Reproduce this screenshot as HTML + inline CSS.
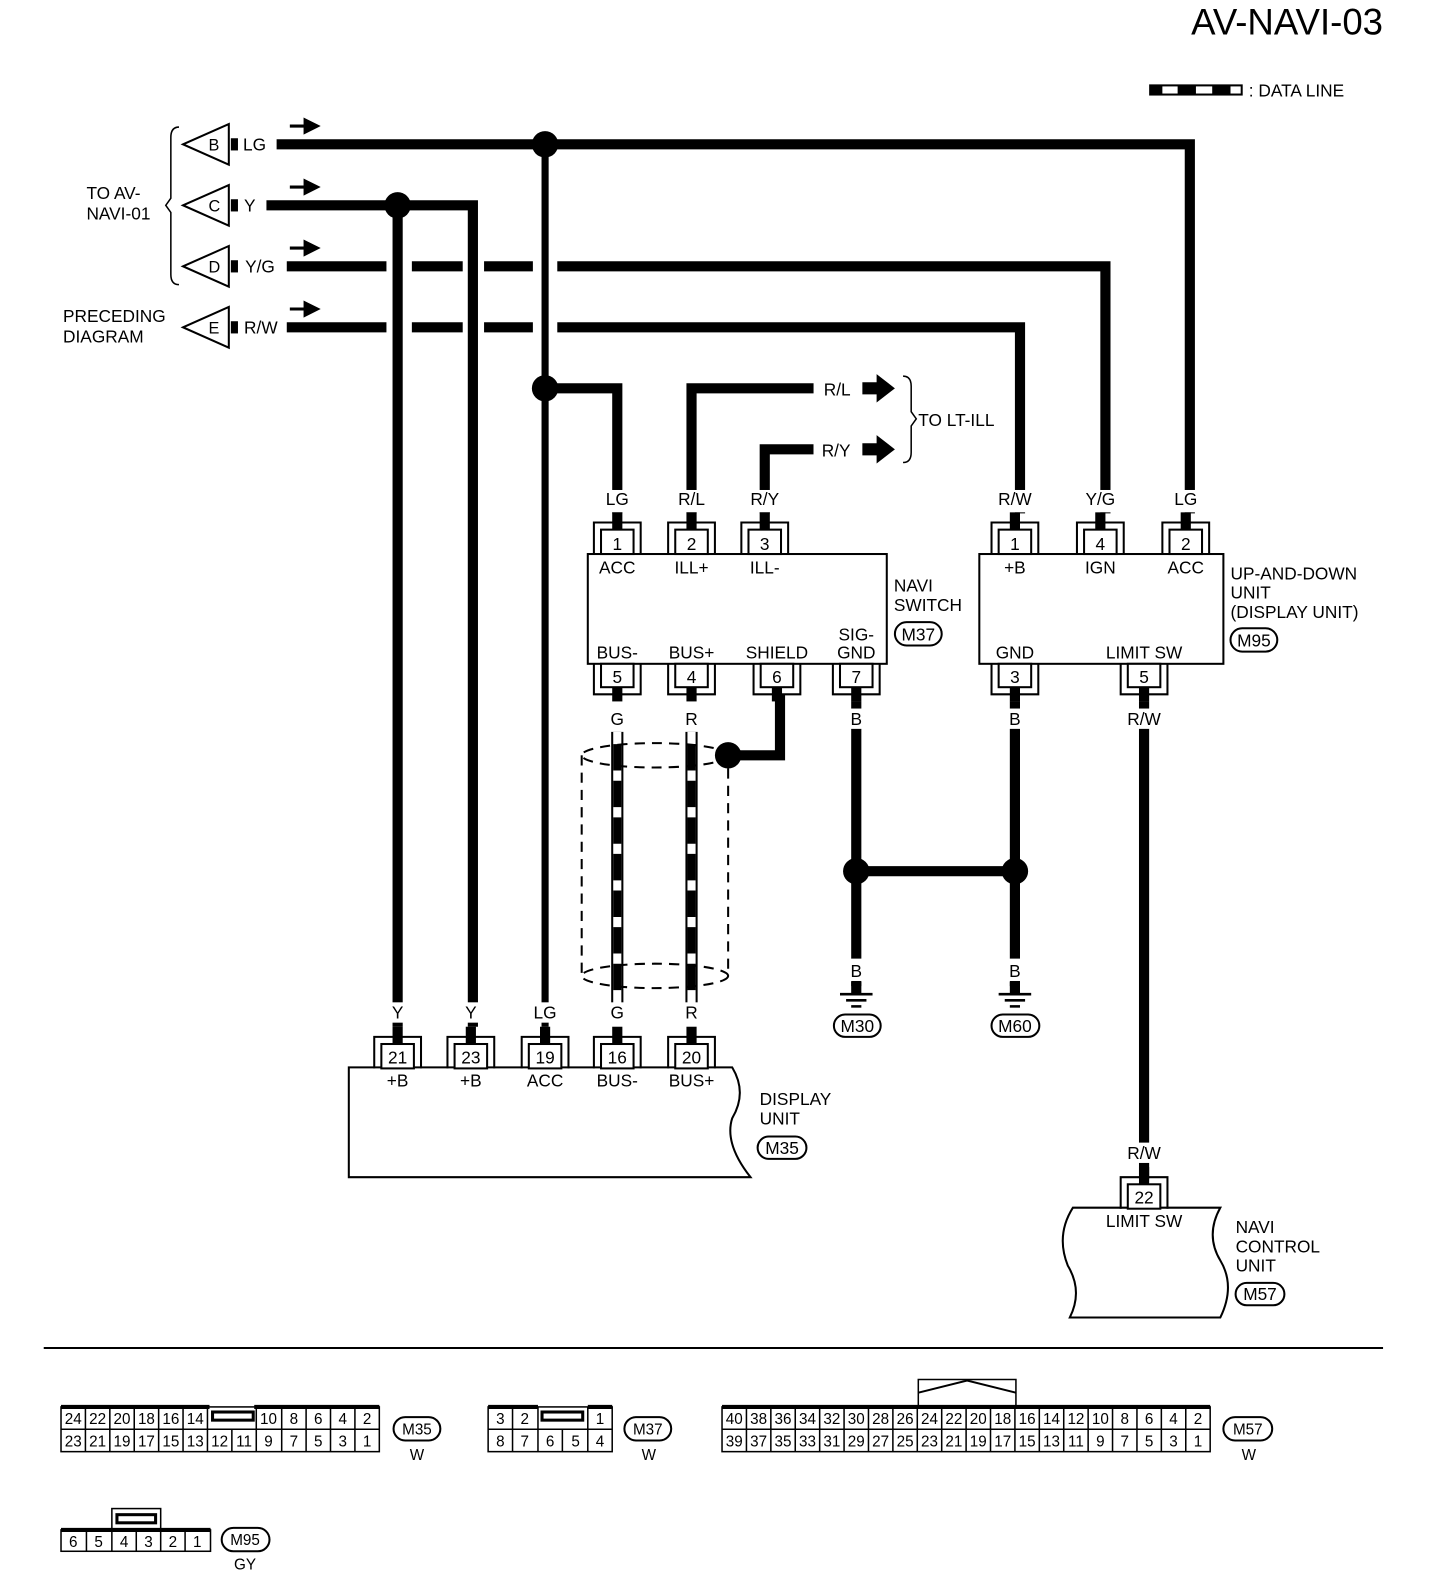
<!DOCTYPE html>
<html><head><meta charset="utf-8"><style>
html,body{margin:0;padding:0;background:#fff;}
svg{display:block;}
text{font-family:"Liberation Sans",sans-serif;fill:#000;}
</style></head><body>
<svg width="1440" height="1596" viewBox="0 0 1416 1570" preserveAspectRatio="none" xmlns="http://www.w3.org/2000/svg">
<defs>
<g id="pt"><path d="M-23,31 V0 H23 V31" fill="none" stroke="#000" stroke-width="2"/><rect x="-16" y="7" width="32" height="24" fill="#fff" stroke="#000" stroke-width="2"/><rect x="-5" y="-10" width="10" height="17"/></g>
<g id="pb"><path d="M-23,0 V30 H23 V0" fill="none" stroke="#000" stroke-width="2"/><rect x="-16" y="0" width="32" height="23" fill="#fff" stroke="#000" stroke-width="2"/><rect x="-5" y="23" width="10" height="14"/></g>
<g id="gnd"><rect x="-5" y="-8" width="10" height="12"/><line x1="-16" y1="4" x2="16" y2="4" stroke="#000" stroke-width="2.5"/><line x1="-10" y1="10" x2="10" y2="10" stroke="#000" stroke-width="2.5"/><line x1="-5" y1="16" x2="5" y2="16" stroke="#000" stroke-width="2.5"/></g>
</defs>
<g font-size="17">
<text x="1360" y="34" font-size="36" text-anchor="end">AV-NAVI-03</text>
<rect x="1131" y="84" width="90" height="9" fill="#fff" stroke="#000" stroke-width="2"/>
<rect x="1131" y="84" width="12" height="9"/><rect x="1158" y="84" width="18" height="9"/><rect x="1192" y="84" width="18" height="9"/>
<text x="1228" y="95">: DATA LINE</text>

<g fill="#fff" stroke="#000" stroke-width="2">
<polygon points="180,142 225,122 225,162"/><polygon points="180,202 225,182 225,222"/>
<polygon points="180,262 225,242 225,282"/><polygon points="180,322 225,302 225,342"/>
</g>
<g font-size="16"><text x="205" y="148">B</text><text x="205" y="208">C</text><text x="205" y="268">D</text><text x="205" y="328">E</text></g>
<rect x="227" y="136" width="7" height="12"/><rect x="227" y="196" width="7" height="12"/><rect x="227" y="256" width="7" height="12"/><rect x="227" y="316" width="7" height="12"/>
<text x="239" y="148">LG</text><text x="240" y="208">Y</text><text x="241" y="268">Y/G</text><text x="240" y="328">R/W</text>
<path d="M176,125 Q168,125 168,135 V195 L163,202 L168,209 V270 Q168,280 176,280" fill="none" stroke="#000" stroke-width="1.5"/>
<text x="85" y="196">TO AV-</text><text x="85" y="216">NAVI-01</text>
<text x="62" y="317">PRECEDING</text><text x="62" y="337">DIAGRAM</text>
<g>
<path d="M285,124 H304 M300,118 L312,124 L300,130 Z" stroke="#000" stroke-width="3"/>
<path d="M285,184 H304 M300,178 L312,184 L300,190 Z" stroke="#000" stroke-width="3"/>
<path d="M285,244 H304 M300,238 L312,244 L300,250 Z" stroke="#000" stroke-width="3"/>
<path d="M285,304 H304 M300,298 L312,304 L300,310 Z" stroke="#000" stroke-width="3"/>
</g>

<g fill="none" stroke="#000" stroke-width="10">
<path d="M272,142 H1170 V505"/>
<path d="M262,202 H465 V1010"/>
<path d="M391,202 V1010"/>
<path d="M282,262 H380 M405,262 H455 M476,262 H524 M548,262 H1087 V505"/>
<path d="M282,322 H380 M405,322 H455 M476,322 H524 M548,322 H1003 V505"/>
<path d="M536,142 V1010" stroke-width="7"/>
<path d="M536,382 H607 V505"/>
<path d="M840,382 H680 V505"/>
<path d="M800,442 H752 V505"/>
<path d="M767,683 V743 H716"/>
<path d="M842,690 V970"/>
<path d="M998,690 V970"/>
<path d="M842,857 H998"/>
<path d="M1125,690 V1160"/>
</g>
<g fill="#000"><circle cx="536" cy="142" r="13"/><circle cx="391" cy="202" r="13"/><circle cx="536" cy="382" r="13"/><circle cx="716" cy="743" r="13"/><circle cx="842" cy="857" r="13"/><circle cx="998" cy="857" r="13"/></g>
<polygon points="848,376 862,376 862,368 880,382 862,396 862,388 848,388"/>
<polygon points="848,436 862,436 862,428 880,442 862,456 862,448 848,448"/>
<rect x="800" y="372" width="44" height="20" fill="#fff"/><rect x="800" y="432" width="44" height="20" fill="#fff"/>
<text x="810" y="389">R/L</text><text x="808" y="449">R/Y</text>
<path d="M888,370 Q896,370 896,380 V405 L901,412 L896,419 V445 Q896,455 888,455" fill="none" stroke="#000" stroke-width="1.5"/>
<text x="903" y="419">TO LT-ILL</text>

<g fill="#fff"><rect x="590" y="482" width="36" height="22"/><rect x="662" y="482" width="36" height="22"/><rect x="734" y="482" width="36" height="22"/><rect x="980" y="482" width="36" height="22"/><rect x="1064" y="482" width="36" height="22"/><rect x="1148" y="482" width="36" height="22"/></g>
<g text-anchor="middle"><text x="607" y="497">LG</text><text x="680" y="497">R/L</text><text x="752" y="497">R/Y</text><text x="998" y="497">R/W</text><text x="1082" y="497">Y/G</text><text x="1166" y="497">LG</text></g>

<rect x="578" y="545" width="294" height="108" fill="#fff" stroke="#000" stroke-width="2"/>
<use href="#pt" x="607" y="514"/><use href="#pt" x="680" y="514"/><use href="#pt" x="752" y="514"/>
<use href="#pb" x="607" y="653"/><use href="#pb" x="680" y="653"/><use href="#pb" x="764" y="653"/><use href="#pb" x="842" y="653"/>
<g text-anchor="middle">
<text x="607" y="541">1</text><text x="680" y="541">2</text><text x="752" y="541">3</text>
<text x="607" y="564">ACC</text><text x="680" y="564">ILL+</text><text x="752" y="564">ILL-</text>
<text x="607" y="648">BUS-</text><text x="680" y="648">BUS+</text><text x="764" y="648">SHIELD</text><text x="842" y="630">SIG-</text><text x="842" y="648">GND</text>
<text x="607" y="672">5</text><text x="680" y="672">4</text><text x="764" y="672">6</text><text x="842" y="672">7</text>
</g>
<text x="879" y="582">NAVI</text><text x="879" y="601">SWITCH</text>
<rect x="880" y="612" width="46" height="23" rx="11.5" fill="#fff" stroke="#000" stroke-width="2"/><text x="903" y="630" text-anchor="middle">M37</text>

<rect x="963" y="545" width="240" height="108" fill="#fff" stroke="#000" stroke-width="2"/>
<use href="#pt" x="998" y="514"/><use href="#pt" x="1082" y="514"/><use href="#pt" x="1166" y="514"/>
<use href="#pb" x="998" y="653"/><use href="#pb" x="1125" y="653"/>
<g text-anchor="middle">
<text x="998" y="541">1</text><text x="1082" y="541">4</text><text x="1166" y="541">2</text>
<text x="998" y="564">+B</text><text x="1082" y="564">IGN</text><text x="1166" y="564">ACC</text>
<text x="998" y="648">GND</text><text x="1125" y="648">LIMIT SW</text>
<text x="998" y="672">3</text><text x="1125" y="672">5</text>
</g>
<text x="1210" y="570">UP-AND-DOWN</text><text x="1210" y="589">UNIT</text><text x="1210" y="608">(DISPLAY UNIT)</text>
<rect x="1210" y="618" width="46" height="23" rx="11.5" fill="#fff" stroke="#000" stroke-width="2"/><text x="1233" y="636" text-anchor="middle">M95</text>

<g fill="#fff"><rect x="596" y="697" width="24" height="20"/><rect x="668" y="697" width="24" height="20"/><rect x="830" y="697" width="24" height="20"/><rect x="986" y="697" width="24" height="20"/><rect x="1105" y="697" width="40" height="20"/><rect x="830" y="943" width="24" height="22"/><rect x="986" y="943" width="24" height="22"/><rect x="1105" y="1124" width="40" height="20"/></g>
<g text-anchor="middle"><text x="607" y="713">G</text><text x="680" y="713">R</text><text x="842" y="713">B</text><text x="998" y="713">B</text><text x="1125" y="713">R/W</text>
<text x="842" y="961">B</text><text x="998" y="961">B</text><text x="1125" y="1140">R/W</text></g>

<g>
<path d="M607,720 V990 M680,720 V990" stroke="#000" stroke-width="12"/>
<path d="M607,720 V990 M680,720 V990" stroke="#fff" stroke-width="8"/>
<path d="M607,732 V980 M680,732 V980" stroke="#000" stroke-width="8" stroke-dasharray="26 10"/>
<rect x="601" y="990" width="12" height="14"/><rect x="674" y="990" width="12" height="14"/>
</g>
<g fill="none" stroke="#000" stroke-width="2" stroke-dasharray="10 7">
<ellipse cx="644" cy="743" rx="72" ry="12"/><ellipse cx="644" cy="960" rx="72" ry="12"/>
<line x1="572" y1="743" x2="572" y2="960"/><line x1="716" y1="756" x2="716" y2="960"/>
</g>

<use href="#gnd" x="842" y="974"/><use href="#gnd" x="998" y="974"/>
<rect x="820" y="998" width="46" height="22" rx="11" fill="#fff" stroke="#000" stroke-width="2"/><text x="843" y="1015" text-anchor="middle">M30</text>
<rect x="975" y="998" width="47" height="22" rx="11" fill="#fff" stroke="#000" stroke-width="2"/><text x="998" y="1015" text-anchor="middle">M60</text>

<g fill="#fff"><rect x="380" y="986" width="24" height="20"/><rect x="452" y="986" width="24" height="20"/><rect x="522" y="986" width="28" height="20"/><rect x="596" y="986" width="24" height="20"/><rect x="668" y="986" width="24" height="20"/></g>
<g text-anchor="middle"><text x="391" y="1002">Y</text><text x="463" y="1002">Y</text><text x="536" y="1002">LG</text><text x="607" y="1002">G</text><text x="680" y="1002">R</text></g>
<path d="M343,1050 H720 Q735,1075 720,1100 Q712,1125 738,1158 H343 Z" fill="#fff" stroke="#000" stroke-width="2"/>
<use href="#pt" x="391" y="1020"/><use href="#pt" x="463" y="1020"/><use href="#pt" x="536" y="1020"/><use href="#pt" x="607" y="1020"/><use href="#pt" x="680" y="1020"/>
<g text-anchor="middle"><text x="391" y="1046">21</text><text x="463" y="1046">23</text><text x="536" y="1046">19</text><text x="607" y="1046">16</text><text x="680" y="1046">20</text>
<text x="391" y="1069">+B</text><text x="463" y="1069">+B</text><text x="536" y="1069">ACC</text><text x="607" y="1069">BUS-</text><text x="680" y="1069">BUS+</text></g>
<text x="747" y="1087">DISPLAY</text><text x="747" y="1106">UNIT</text>
<rect x="745" y="1118" width="48" height="22" rx="11" fill="#fff" stroke="#000" stroke-width="2"/><text x="769" y="1135" text-anchor="middle">M35</text>

<path d="M1055,1188 H1200 Q1185,1215 1200,1240 Q1215,1265 1200,1296 H1052 Q1065,1270 1050,1245 Q1038,1215 1055,1188 Z" fill="#fff" stroke="#000" stroke-width="2"/>
<use href="#pt" x="1125" y="1158"/>
<text x="1125" y="1184" text-anchor="middle">22</text>
<text x="1125" y="1207" text-anchor="middle">LIMIT SW</text>
<text x="1215" y="1213">NAVI</text><text x="1215" y="1232">CONTROL</text><text x="1215" y="1251">UNIT</text>
<rect x="1215" y="1262" width="48" height="22" rx="11" fill="#fff" stroke="#000" stroke-width="2"/><text x="1239" y="1279" text-anchor="middle">M57</text>

<line x1="43" y1="1326" x2="1360" y2="1326" stroke="#000" stroke-width="2"/>
</g>

<g font-size="15" text-anchor="middle">
<!-- M35 -->
<g fill="none" stroke="#000" stroke-width="1.5">
<rect x="60" y="1384" width="313" height="44"/><line x1="60" y1="1406" x2="373" y2="1406"/>
<path d="M84,1384V1428M108,1384V1428M132,1384V1428M156,1384V1428M180,1384V1428M204,1384V1428M228,1406V1428M252,1384V1428M277,1384V1428M301,1384V1428M325,1384V1428M349,1384V1428"/>
<path d="M60,1384 H206 M250,1384 H373" stroke-width="4"/>
</g>
<rect x="209" y="1389" width="40" height="8" fill="#fff" stroke="#000" stroke-width="3"/>
<text x="72" y="1401">24</text><text x="96" y="1401">22</text><text x="120" y="1401">20</text><text x="144" y="1401">18</text><text x="168" y="1401">16</text><text x="192" y="1401">14</text><text x="264" y="1401">10</text><text x="289" y="1401">8</text><text x="313" y="1401">6</text><text x="337" y="1401">4</text><text x="361" y="1401">2</text>
<text x="72" y="1423">23</text><text x="96" y="1423">21</text><text x="120" y="1423">19</text><text x="144" y="1423">17</text><text x="168" y="1423">15</text><text x="192" y="1423">13</text><text x="216" y="1423">12</text><text x="240" y="1423">11</text><text x="264" y="1423">9</text><text x="289" y="1423">7</text><text x="313" y="1423">5</text><text x="337" y="1423">3</text><text x="361" y="1423">1</text>
<rect x="387" y="1394" width="46" height="23" rx="11.5" fill="#fff" stroke="#000" stroke-width="2"/><text x="410" y="1411">M35</text><text x="410" y="1436">W</text>
<!-- M37 -->
<g fill="none" stroke="#000" stroke-width="1.5">
<rect x="480" y="1384" width="122" height="44"/><line x1="480" y1="1406" x2="602" y2="1406"/>
<path d="M504,1384 V1428 M529,1384 V1428 M553,1406 V1428 M578,1384 V1428"/>
<path d="M480,1384 H529 M578,1384 H602" stroke-width="4"/>
</g>
<rect x="533" y="1389" width="40" height="8" fill="#fff" stroke="#000" stroke-width="3"/>
<text x="492" y="1401">3</text><text x="516" y="1401">2</text><text x="590" y="1401">1</text>
<text x="492" y="1423">8</text><text x="516" y="1423">7</text><text x="541" y="1423">6</text><text x="566" y="1423">5</text><text x="590" y="1423">4</text>
<rect x="614" y="1394" width="46" height="23" rx="11.5" fill="#fff" stroke="#000" stroke-width="2"/><text x="637" y="1411">M37</text><text x="638" y="1436">W</text>
<!-- M57 -->
<g fill="none" stroke="#000" stroke-width="1.5">
<rect x="710" y="1384" width="480" height="44"/><line x1="710" y1="1406" x2="1190" y2="1406"/>
<path d="M734,1384V1428M758,1384V1428M782,1384V1428M806,1384V1428M830,1384V1428M854,1384V1428M878,1384V1428M902,1384V1428M926,1384V1428M950,1384V1428M974,1384V1428M998,1384V1428M1022,1384V1428M1046,1384V1428M1070,1384V1428M1094,1384V1428M1118,1384V1428M1142,1384V1428M1166,1384V1428"/>
<path d="M710,1384 H1190" stroke-width="4"/>
<path d="M903,1384 V1357 H999 V1384"/>
<path d="M903,1370 L951,1358 L999,1370" stroke-width="2"/>
</g>
<text x="722" y="1401">40</text><text x="746" y="1401">38</text><text x="770" y="1401">36</text><text x="794" y="1401">34</text><text x="818" y="1401">32</text><text x="842" y="1401">30</text><text x="866" y="1401">28</text><text x="890" y="1401">26</text><text x="914" y="1401">24</text><text x="938" y="1401">22</text><text x="962" y="1401">20</text><text x="986" y="1401">18</text><text x="1010" y="1401">16</text><text x="1034" y="1401">14</text><text x="1058" y="1401">12</text><text x="1082" y="1401">10</text><text x="1106" y="1401">8</text><text x="1130" y="1401">6</text><text x="1154" y="1401">4</text><text x="1178" y="1401">2</text>
<text x="722" y="1423">39</text><text x="746" y="1423">37</text><text x="770" y="1423">35</text><text x="794" y="1423">33</text><text x="818" y="1423">31</text><text x="842" y="1423">29</text><text x="866" y="1423">27</text><text x="890" y="1423">25</text><text x="914" y="1423">23</text><text x="938" y="1423">21</text><text x="962" y="1423">19</text><text x="986" y="1423">17</text><text x="1010" y="1423">15</text><text x="1034" y="1423">13</text><text x="1058" y="1423">11</text><text x="1082" y="1423">9</text><text x="1106" y="1423">7</text><text x="1130" y="1423">5</text><text x="1154" y="1423">3</text><text x="1178" y="1423">1</text>
<rect x="1203" y="1394" width="48" height="23" rx="11.5" fill="#fff" stroke="#000" stroke-width="2"/><text x="1227" y="1411">M57</text><text x="1228" y="1436">W</text>
<!-- M95 -->
<g fill="none" stroke="#000" stroke-width="1.5">
<rect x="60" y="1505" width="147" height="21"/>
<path d="M85,1505V1526M110,1505V1526M134,1505V1526M158,1505V1526M182,1505V1526"/>
<path d="M60,1505 H207" stroke-width="4"/>
<rect x="110" y="1484" width="48" height="21"/>
</g>
<rect x="115" y="1490" width="38" height="8" fill="#fff" stroke="#000" stroke-width="3"/>
<text x="72" y="1522">6</text><text x="97" y="1522">5</text><text x="122" y="1522">4</text><text x="146" y="1522">3</text><text x="170" y="1522">2</text><text x="194" y="1522">1</text>
<rect x="218" y="1503" width="47" height="23" rx="11.5" fill="#fff" stroke="#000" stroke-width="2"/><text x="241" y="1520">M95</text><text x="241" y="1544">GY</text>
</g>
</svg>
</body></html>
